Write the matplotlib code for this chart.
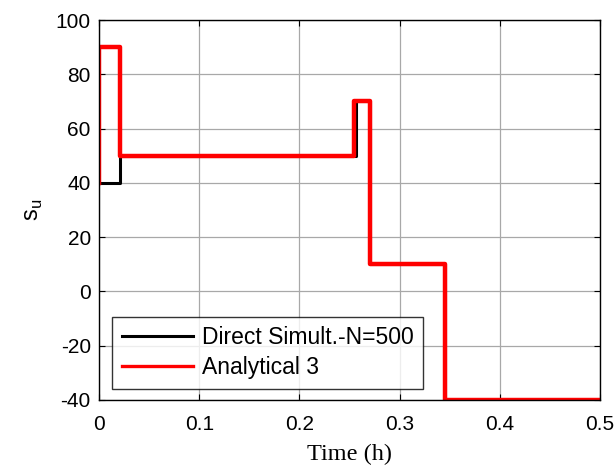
"""Step response of s_u: direct simulation vs analytical."""

import matplotlib
matplotlib.use("Agg")
import matplotlib.pyplot as plt

# Direct simulation (N=500)
sim_t = [0.0, 0.021, 0.256, 0.27, 0.345, 0.5]
sim_su = [40, 50, 70, 10, -40, -40]

# Analytical 3
ana_t = [0.0, 0.0, 0.021, 0.254, 0.27, 0.345, 0.5]
ana_su = [40, 90, 50, 70, 10, -40, -40]

xticks = [0, 0.1, 0.2, 0.3, 0.4, 0.5]
xtick_labels = ["0", "0.1", "0.2", "0.3", "0.4", "0.5"]
yticks = [-40, -20, 0, 20, 40, 60, 80, 100]

plt.rcParams["font.family"] = ["Liberation Sans", "DejaVu Sans"]
plt.rcParams["axes.unicode_minus"] = False

fig = plt.figure(figsize=(6.16, 4.66), dpi=100)
ax = fig.add_axes([0.161, 0.142, 0.813, 0.815])

ax.plot(sim_t, sim_su, drawstyle="steps-post", color="black", lw=2.2,
        label="Direct Simult.-N=500")
ax.plot(ana_t, ana_su, drawstyle="steps-post", color="red", lw=3.2,
        label="Analytical 3")

ax.set_xlim(0, 0.5)
ax.set_ylim(-40, 100)
ax.set_xticks(xticks)
ax.set_xticklabels(xtick_labels)
ax.set_yticks(yticks)
ax.tick_params(direction="in", length=4, width=0.8, labelsize=15,
               top=True, right=True, pad=6)
ax.tick_params(axis="x", pad=11)
ax.grid(True, color="#a8a8a8", lw=0.9)
ax.set_axisbelow(True)
for s in ax.spines.values():
    s.set_linewidth(1.0)

ax.set_xlabel("Time (h)", family="Liberation Serif", fontsize=17.5, labelpad=7)
ax.set_ylabel("s$_\\mathregular{u}$", fontsize=17, labelpad=8)

leg = ax.legend(loc="lower left", bbox_to_anchor=(0.026, 0.029), fontsize=16.5,
                frameon=True, fancybox=False, edgecolor="black",
                handlelength=3.1, borderpad=0.42, labelspacing=0.3,
                handletextpad=0.4, borderaxespad=0)
leg.get_frame().set_linewidth(1.0)
leg.get_lines()[1].set_linewidth(2.4)

plt.savefig("out.png", dpi=100)
plt.close()
